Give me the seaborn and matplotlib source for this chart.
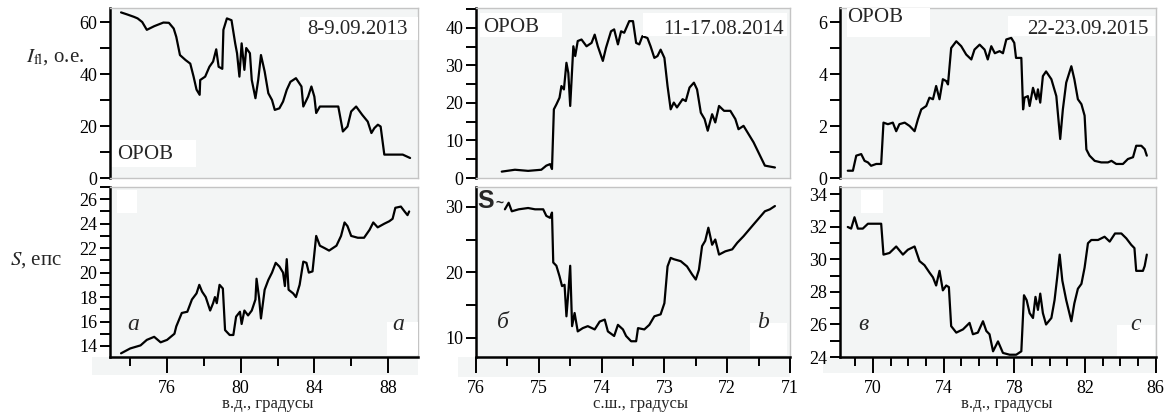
import matplotlib
matplotlib.use("Agg")
import matplotlib.pyplot as plt
from matplotlib.ticker import MultipleLocator
from matplotlib.patches import Rectangle
import seaborn as sns

# ---------------- data ----------------
# Panel a (8-9.09.2013), x = longitude E
lon_a_fl = [73.5, 73.8, 74.2, 74.4, 74.65, 74.9, 75.3, 75.8, 76.1, 76.36, 76.5, 76.7, 77.0, 77.26, 77.44,
            77.6, 77.77, 77.8, 78.07, 78.3, 78.5, 78.67, 78.8, 79.0, 79.06, 79.25, 79.5, 79.7, 79.8, 79.93,
            80.05, 80.2, 80.3, 80.5, 80.6, 80.8, 80.95, 81.1, 81.3, 81.5, 81.7, 81.85, 82.1, 82.3, 82.5,
            82.7, 83.0, 83.3, 83.4, 83.66, 83.84, 84.0, 84.1, 84.3, 84.8, 85.3, 85.55, 85.8, 86.0, 86.27,
            86.6, 86.9, 87.1, 87.26, 87.45, 87.6, 87.8, 88.2, 88.8, 89.2]
fl_a = [63.7, 63.0, 62.0, 61.4, 60.0, 57.0, 58.4, 59.8, 59.7, 57.5, 54.3, 47.3, 45.4, 44.0, 39.0,
        34.0, 32.0, 37.7, 39.0, 42.8, 44.8, 49.5, 42.8, 42.0, 57.0, 61.4, 60.7, 51.8, 48.0, 39.0,
        51.8, 41.6, 50.0, 48.0, 37.7, 30.7, 37.7, 47.3, 41.0, 32.6, 30.0, 26.2, 26.8, 29.4, 33.9,
        37.0, 38.4, 35.2, 27.5, 31.3, 35.2, 31.3, 25.0, 27.5, 27.5, 27.5, 17.9, 19.8, 25.6, 27.5,
        24.3, 21.7, 17.3, 19.2, 20.5, 19.8, 9.0, 9.0, 9.0, 7.7]
lon_a_s = [73.5, 74.0, 74.56, 74.9, 75.3, 75.65, 76.0, 76.4, 76.5, 76.8, 77.1, 77.35, 77.6, 77.75, 77.9,
           78.1, 78.34, 78.5, 78.6, 78.7, 78.85, 79.03, 79.15, 79.4, 79.6, 79.75, 79.96, 80.05, 80.2,
           80.4, 80.6, 80.8, 80.86, 81.0, 81.1, 81.3, 81.5, 81.7, 81.9, 82.1, 82.3, 82.4, 82.5, 82.6,
           82.85, 83.0, 83.2, 83.4, 83.57, 83.7, 83.9, 84.1, 84.3, 84.56, 84.8, 85.2, 85.45, 85.64,
           85.8, 86.0, 86.36, 86.7, 87.0, 87.2, 87.44, 87.8, 88.07, 88.25, 88.4, 88.7, 88.9, 89.06, 89.15]
s_a = [13.4, 13.8, 14.05, 14.5, 14.75, 14.3, 14.5, 15.0, 15.6, 16.7, 16.8, 17.8, 18.3, 19.0, 18.45,
       18.0, 16.9, 17.5, 18.0, 17.5, 19.0, 18.7, 15.3, 14.9, 14.9, 16.4, 16.8, 15.8, 16.9,
       16.5, 16.9, 17.8, 19.5, 17.9, 16.25, 18.6, 19.4, 20.0, 20.8, 20.5, 20.0, 18.9, 21.1, 18.6,
       18.3, 18.0, 19.0, 20.9, 20.8, 20.0, 20.1, 23.0, 22.2, 22.0, 21.8, 22.2, 23.0, 24.1,
       23.8, 23.0, 22.85, 22.85, 23.5, 24.1, 23.7, 24.0, 24.2, 24.4, 25.3, 25.4, 25.0, 24.7, 25.0]

# Panel b (11-17.08.2014), x = latitude N
lat_b_fl = [75.59, 75.38, 75.17, 74.96, 74.88, 74.82, 74.79, 74.76, 74.72, 74.67, 74.64, 74.6, 74.56,
            74.53, 74.5, 74.45, 74.42, 74.38, 74.32, 74.24, 74.16, 74.11, 74.06, 73.98, 73.93, 73.85,
            73.8, 73.74, 73.69, 73.64, 73.56, 73.5, 73.45, 73.4, 73.35, 73.27, 73.22, 73.16, 73.11,
            73.06, 73.0, 72.95, 72.9, 72.85, 72.8, 72.71, 72.66, 72.6, 72.53, 72.48, 72.42, 72.36,
            72.31, 72.24, 72.19, 72.13, 72.05, 71.95, 71.87, 71.82, 71.74, 71.58, 71.4, 71.24]
fl_b = [1.7, 2.2, 1.9, 2.2, 3.3, 3.7, 2.4, 18.3, 19.6, 21.4, 24.5, 23.6, 30.7,
        28.0, 19.2, 35.1, 32.5, 36.5, 36.9, 35.1, 36.0, 38.2, 35.1, 31.2, 34.7, 39.1,
        39.6, 35.6, 39.1, 38.7, 41.8, 41.8, 36.0, 35.6, 37.8, 37.3, 35.1, 32.0, 32.5,
        34.2, 32.0, 24.5, 18.3, 20.1, 18.8, 21.0, 20.5, 24.1, 25.4, 23.6, 17.4, 15.7,
        12.6, 17.0, 14.8, 19.2, 17.9, 17.9, 15.7, 13.0, 13.9, 9.5, 3.3, 2.8]
lat_b_s = [75.54, 75.48, 75.43, 75.32, 75.17, 75.06, 74.93, 74.88, 74.82, 74.79, 74.77, 74.72, 74.67,
           74.63, 74.59, 74.56, 74.53, 74.5, 74.47, 74.43, 74.38, 74.3, 74.22, 74.11, 74.03, 73.95,
           73.9, 73.8, 73.74, 73.66, 73.61, 73.53, 73.45, 73.42, 73.32, 73.24, 73.16, 73.06, 73.0,
           72.95, 72.9, 72.85, 72.74, 72.64, 72.56, 72.5, 72.45, 72.4, 72.35, 72.3, 72.24, 72.19,
           72.13, 72.03, 71.92, 71.84, 71.74, 71.58, 71.4, 71.32, 71.24]
s_b = [29.6, 30.6, 29.3, 29.6, 29.8, 29.6, 29.6, 28.6, 28.3, 29.1, 21.5, 21.0, 19.4,
       17.9, 18.1, 13.3, 16.9, 21.0, 11.8, 13.8, 11.0, 11.5, 11.8, 11.3, 12.5, 12.8,
       11.0, 10.3, 12.0, 11.3, 10.3, 9.5, 9.5, 11.5, 11.3, 12.0, 13.3, 13.6, 15.3,
       20.9, 22.2, 22.0, 21.7, 20.9, 19.7, 18.9, 20.4, 24.0, 24.8, 26.8, 24.2, 25.0,
       22.7, 23.2, 23.5, 24.5, 25.5, 27.3, 29.3, 29.6, 30.1]

# Panel c (22-23.09.2015), x = longitude E
lon_c_fl = [68.58, 68.87, 69.06, 69.34, 69.53, 69.72, 69.9, 70.19, 70.47, 70.6, 70.85, 71.13, 71.32,
            71.5, 71.8, 72.08, 72.36, 72.55, 72.74, 73.02, 73.2, 73.4, 73.58, 73.77, 73.96, 74.15,
            74.25, 74.43, 74.72, 75.0, 75.28, 75.57, 75.75, 76.04, 76.32, 76.5, 76.7, 76.9, 77.17,
            77.36, 77.55, 77.83, 78.0, 78.1, 78.4, 78.5, 78.58, 78.77, 78.87, 79.06, 79.25, 79.34,
            79.47, 79.62, 79.8, 80.1, 80.38, 80.6, 80.75, 80.94, 81.23, 81.4, 81.6, 81.8, 81.98,
            82.08, 82.26, 82.55, 82.92, 83.3, 83.5, 83.77, 84.15, 84.43, 84.72, 84.9, 85.19, 85.38, 85.5]
fl_c = [0.28, 0.28, 0.86, 0.92, 0.66, 0.6, 0.47, 0.54, 0.54, 2.13, 2.07, 2.13, 1.8,
        2.07, 2.13, 2.0, 1.8, 2.26, 2.64, 2.77, 3.09, 3.03, 3.54, 3.03, 3.8, 3.73,
        3.6, 5.0, 5.26, 5.07, 4.75, 4.56, 4.94, 5.13, 4.94, 4.56, 5.07, 4.8, 4.88,
        4.8, 5.33, 5.39, 5.2, 4.62, 4.62, 2.64, 3.09, 3.15, 2.77, 3.47, 3.03, 3.41,
        2.9, 3.92, 4.1, 3.8, 3.15, 1.5, 2.64, 3.67, 4.3, 3.8, 3.03, 2.84, 2.4,
        1.1, 0.86, 0.66, 0.6, 0.6, 0.66, 0.54, 0.54, 0.73, 0.8, 1.24, 1.24, 1.11, 0.86]
lon_c_s = [68.58, 68.77, 68.96, 69.15, 69.43, 69.72, 70.0, 70.47, 70.6, 70.94, 71.32, 71.7, 71.98,
           72.36, 72.64, 72.92, 73.2, 73.4, 73.58, 73.77, 73.96, 74.15, 74.3, 74.43, 74.72, 75.1,
           75.47, 75.66, 75.94, 76.23, 76.42, 76.6, 76.8, 77.08, 77.36, 77.74, 78.11, 78.4, 78.55,
           78.7, 78.87, 79.06, 79.2, 79.34, 79.47, 79.62, 79.8, 80.1, 80.28, 80.43, 80.57, 80.72,
           80.94, 81.23, 81.4, 81.6, 81.8, 81.98, 82.17, 82.36, 82.74, 83.11, 83.4, 83.7, 84.06,
           84.34, 84.62, 84.8, 84.9, 85.28, 85.38, 85.5]
s_c = [32.0, 31.9, 32.6, 31.9, 31.9, 32.2, 32.2, 32.2, 30.3, 30.4, 30.8, 30.3, 30.6,
       30.8, 29.9, 29.65, 29.2, 28.9, 28.4, 29.3, 28.1, 28.4, 28.3, 25.9, 25.5, 25.7,
       26.1, 25.4, 25.5, 26.2, 25.6, 25.4, 24.35, 24.96, 24.25, 24.14, 24.14, 24.35, 27.8,
       27.5, 26.7, 26.4, 27.7, 26.9, 27.9, 26.7, 26.0, 26.4, 27.5, 28.9, 30.3, 28.7,
       27.5, 26.2, 27.3, 28.2, 28.5, 29.5, 31.0, 31.2, 31.2, 31.4, 31.1, 31.6, 31.6,
       31.3, 30.9, 30.7, 29.3, 29.3, 29.6, 30.3]

dates = ["8-9.09.2013", "11-17.08.2014", "22-23.09.2015"]
xlabels = ["в.д., градусы", "с.ш., градусы", "в.д., градусы"]
letters_left = ["а", "б", "в"]
letters_right = ["a", "b", "c"]
tag = "ОРОВ"

# ---------------- style ----------------
sns.set_theme(style="white")
plt.rcParams['font.family'] = ['Liberation Serif', 'DejaVu Serif']
plt.rcParams['mathtext.fontset'] = 'stix'

W, H = 1168, 415
fig = plt.figure(figsize=(W / 100, H / 100), dpi=100)
BG = '#f3f5f5'
EDGE = '#c4c4c4'


def frect(l, r, t, b):
    return [l / W, 1 - b / H, (r - l) / W, (b - t) / H]


def box(l, r, t, b, color='white', z=1):
    fig.add_artist(Rectangle((l / W, 1 - b / H), (r - l) / W, (b - t) / H,
                             transform=fig.transFigure, facecolor=color,
                             edgecolor='none', zorder=z))


def ftext(x, y, s, **kw):
    fig.text(x / W, 1 - y / H, s, zorder=3, **kw)


cols = [(110, 418), (476, 790), (840, 1156)]
rows = [(8, 178), (187, 357)]
xlims = [(72.9, 89.63), (76, 71), (68.14, 86.02)]
ylims_top = [(0, 65.4), (0, 45.3), (0, 6.54)]
ylims_bot = [(13.1, 27.0), (7.1, 33.0), (24, 34.46)]
ymaj_top = [20, 10, 2]
ymin_top = [10, 5, 1]
ymaj_bot = [2, 10, 2]
ymin_bot = [1, 5, 1]
xmaj = [(4, 0), (1, 0), (4, 2)]
xmin = [2, 0.5, 1]

series = [(lon_a_fl, fl_a, lon_a_s, s_a),
          (lat_b_fl, fl_b, lat_b_s, s_b),
          (lon_c_fl, fl_c, lon_c_s, s_c)]

# gray artefact strips below bottom axes
box(92, 418, 357, 375, BG, z=-1)
box(458, 790, 357, 377, BG, z=-1)
box(823, 1156, 357, 373, BG, z=-1)


def style_axes(ax, bottom_black):
    ax.set_facecolor(BG)
    for s in ['top', 'right']:
        ax.spines[s].set_color(EDGE)
        ax.spines[s].set_linewidth(1.0)
    ax.spines['left'].set_color('black')
    ax.spines['left'].set_linewidth(1.8)
    if bottom_black:
        ax.spines['bottom'].set_color('black')
        ax.spines['bottom'].set_linewidth(1.8)
    else:
        ax.spines['bottom'].set_color(EDGE)
        ax.spines['bottom'].set_linewidth(1.0)
    ax.tick_params(axis='y', which='both', direction='out', left=True, length=7.2,
                   width=1.4, color='black', labelsize=13, pad=2, labelcolor='black')
    ax.set_xlabel('')
    ax.set_ylabel('')
    ax.grid(False)


for i, (l, r) in enumerate(cols):
    xf, yf, xs, ys = series[i]
    axt = fig.add_axes(frect(l, r, *rows[0]))
    axb = fig.add_axes(frect(l, r, *rows[1]))
    sns.lineplot(x=xf, y=yf, ax=axt, color='black', lw=1.6, sort=False, estimator=None)
    sns.lineplot(x=xs, y=ys, ax=axb, color='black', lw=1.6, sort=False, estimator=None)
    for ax in (axt, axb):
        ax.set_xlim(*xlims[i])
    axt.set_ylim(*ylims_top[i])
    axb.set_ylim(*ylims_bot[i])
    style_axes(axt, False)
    style_axes(axb, True)
    axt.yaxis.set_major_locator(MultipleLocator(ymaj_top[i]))
    axt.yaxis.set_minor_locator(MultipleLocator(ymin_top[i]))
    axb.yaxis.set_major_locator(MultipleLocator(ymaj_bot[i]))
    axb.yaxis.set_minor_locator(MultipleLocator(ymin_bot[i]))
    axt.set_xticks([])
    axt.tick_params(axis='x', which='both', bottom=False, labelbottom=False)
    axb.xaxis.set_major_locator(MultipleLocator(xmaj[i][0], offset=xmaj[i][1]))
    axb.xaxis.set_minor_locator(MultipleLocator(xmin[i]))
    axb.tick_params(axis='x', which='major', direction='out', bottom=True, length=11.5,
                    width=1.4, color='black', labelsize=13, pad=5, labelcolor='black')
    axb.tick_params(axis='x', which='minor', direction='out', bottom=True, length=6.5,
                    width=1.4, color='black')

# white label boxes
box(112, 196, 140, 167)
box(300, 418, 17, 40)
box(117, 137, 190, 213)
box(387, 418, 322, 355)
box(480, 562, 13, 37)
box(643, 787, 13, 36)
box(750, 787, 323, 355)
box(847, 930, 8, 37)
box(1008, 1155, 16, 36)
box(861, 883, 190, 213)
box(1117, 1155, 325, 356)

# annotations
ftext(117, 154, tag, fontsize=15, va='center', ha='left')
ftext(483, 28, tag, fontsize=15, va='center', ha='left')
ftext(847, 18, tag, fontsize=15, va='center', ha='left')
ftext(408, 29, dates[0], fontsize=15, va='center', ha='right')
ftext(784, 29, dates[1], fontsize=15, va='center', ha='right')
ftext(1148, 29, dates[2], fontsize=15, va='center', ha='right')

ftext(127, 324, letters_left[0], fontsize=17, style='italic', va='center', ha='left')
ftext(392, 324, letters_right[0], fontsize=17, style='italic', va='center', ha='left')
ftext(497, 322, letters_left[1], fontsize=17, style='italic', va='center', ha='left')
ftext(757, 322, letters_right[1], fontsize=17, style='italic', va='center', ha='left')
ftext(858, 324, letters_left[2], fontsize=17, style='italic', va='center', ha='left')
ftext(1130, 324, letters_right[2], fontsize=17, style='italic', va='center', ha='left')

ftext(477, 201, "S", fontsize=18, fontweight='bold', family='Liberation Sans',
      va='center', ha='left')
ftext(495, 203, "~", fontsize=10, fontweight='bold', family='Liberation Sans',
      va='center', ha='left')

ftext(26, 57, r"$I_{\rm fl}$, о.е.", fontsize=15, va='center', ha='left')
ftext(10, 260, r"$S$, епс", fontsize=15, va='center', ha='left')

ftext(268, 404, xlabels[0], fontsize=12, va='center', ha='center')
ftext(641, 404, xlabels[1], fontsize=12, va='center', ha='center')
ftext(1007, 404, xlabels[2], fontsize=12, va='center', ha='center')

fig.savefig("out.png", dpi=100)
